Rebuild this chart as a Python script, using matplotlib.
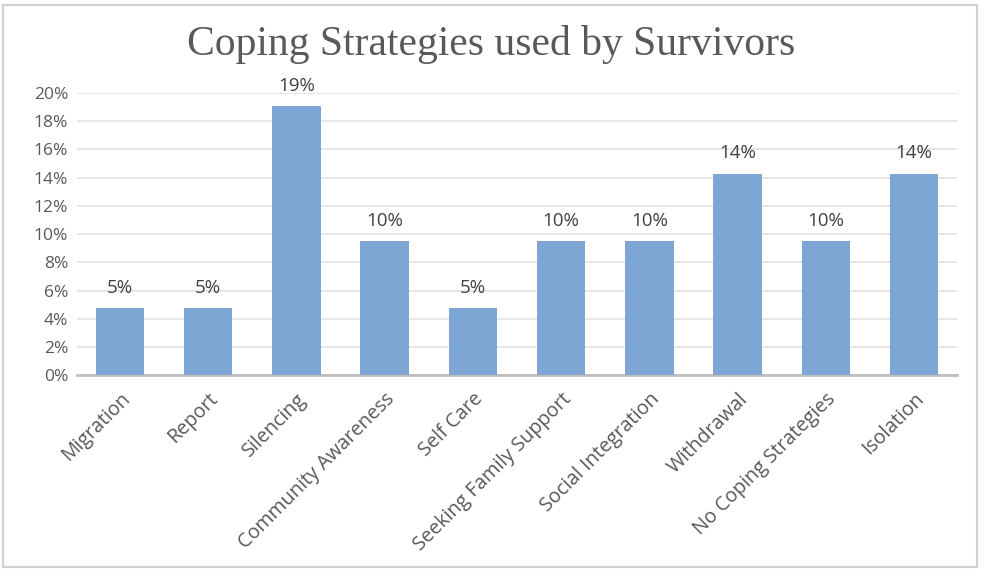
import numpy as np
import matplotlib.pyplot as plt
from matplotlib.patches import Rectangle

categories = ['Migration', 'Report', 'Silencing', 'Community Awareness', 'Self Care',
              'Seeking Family Support', 'Social Integration', 'Withdrawal',
              'No Coping Strategies', 'Isolation']
percent = [4.76, 4.76, 19.05, 9.52, 4.76, 9.52, 9.52, 14.29, 9.52, 14.29]

bar_color = '#7EA6D4'
text_color = '#595959'

fig = plt.figure(figsize=(9.82, 5.71), dpi=100)
ax = fig.add_axes([0.078, 0.343, 0.897, 0.494])

ind = np.arange(len(categories))
bars = ax.bar(ind, percent, 0.55, color=bar_color, zorder=3)

ax.set_xlim(-0.49, len(categories) - 0.51)
ax.set_ylim(0, 20)
ax.set_yticks(np.arange(0, 21, 2))
ax.set_yticklabels(['%d%%' % v for v in np.arange(0, 21, 2)])
ax.yaxis.grid(True, color='#e3e3e3', linewidth=1.2, zorder=0)
ax.set_axisbelow(True)

for s in ['top', 'right', 'left']:
    ax.spines[s].set_visible(False)
ax.spines['bottom'].set_color('#bfbfbf')
ax.spines['bottom'].set_linewidth(2)

ax.tick_params(axis='y', length=0, labelsize=12.5, labelcolor=text_color, pad=6)
ax.tick_params(axis='x', length=0, pad=10)
for lbl in ax.get_yticklabels():
    lbl.set_family('Open Sans')
ax.set_xticks(ind)
ax.set_xticklabels(categories, rotation=45, ha='right', rotation_mode='anchor',
                   family='Open Sans', fontsize=14.2, color=text_color)

# value labels on top of bars
for rect, v in zip(bars, percent):
    ax.text(rect.get_x() + rect.get_width() / 2., v + 0.8, '%d%%' % round(v),
            ha='center', va='bottom', fontsize=13.5, color='#404040', family='Open Sans')

fig.text(0.5, 0.922, 'Coping Strategies used by Survivors', ha='center', va='center',
         fontsize=30, color=text_color, family='Liberation Serif')

# chart frame
fig.patches.append(Rectangle((0.003, 0.007), 0.992, 0.985, transform=fig.transFigure,
                             fill=False, edgecolor='#d0d0d0', linewidth=1.5))

fig.savefig('out.png', dpi=100)
